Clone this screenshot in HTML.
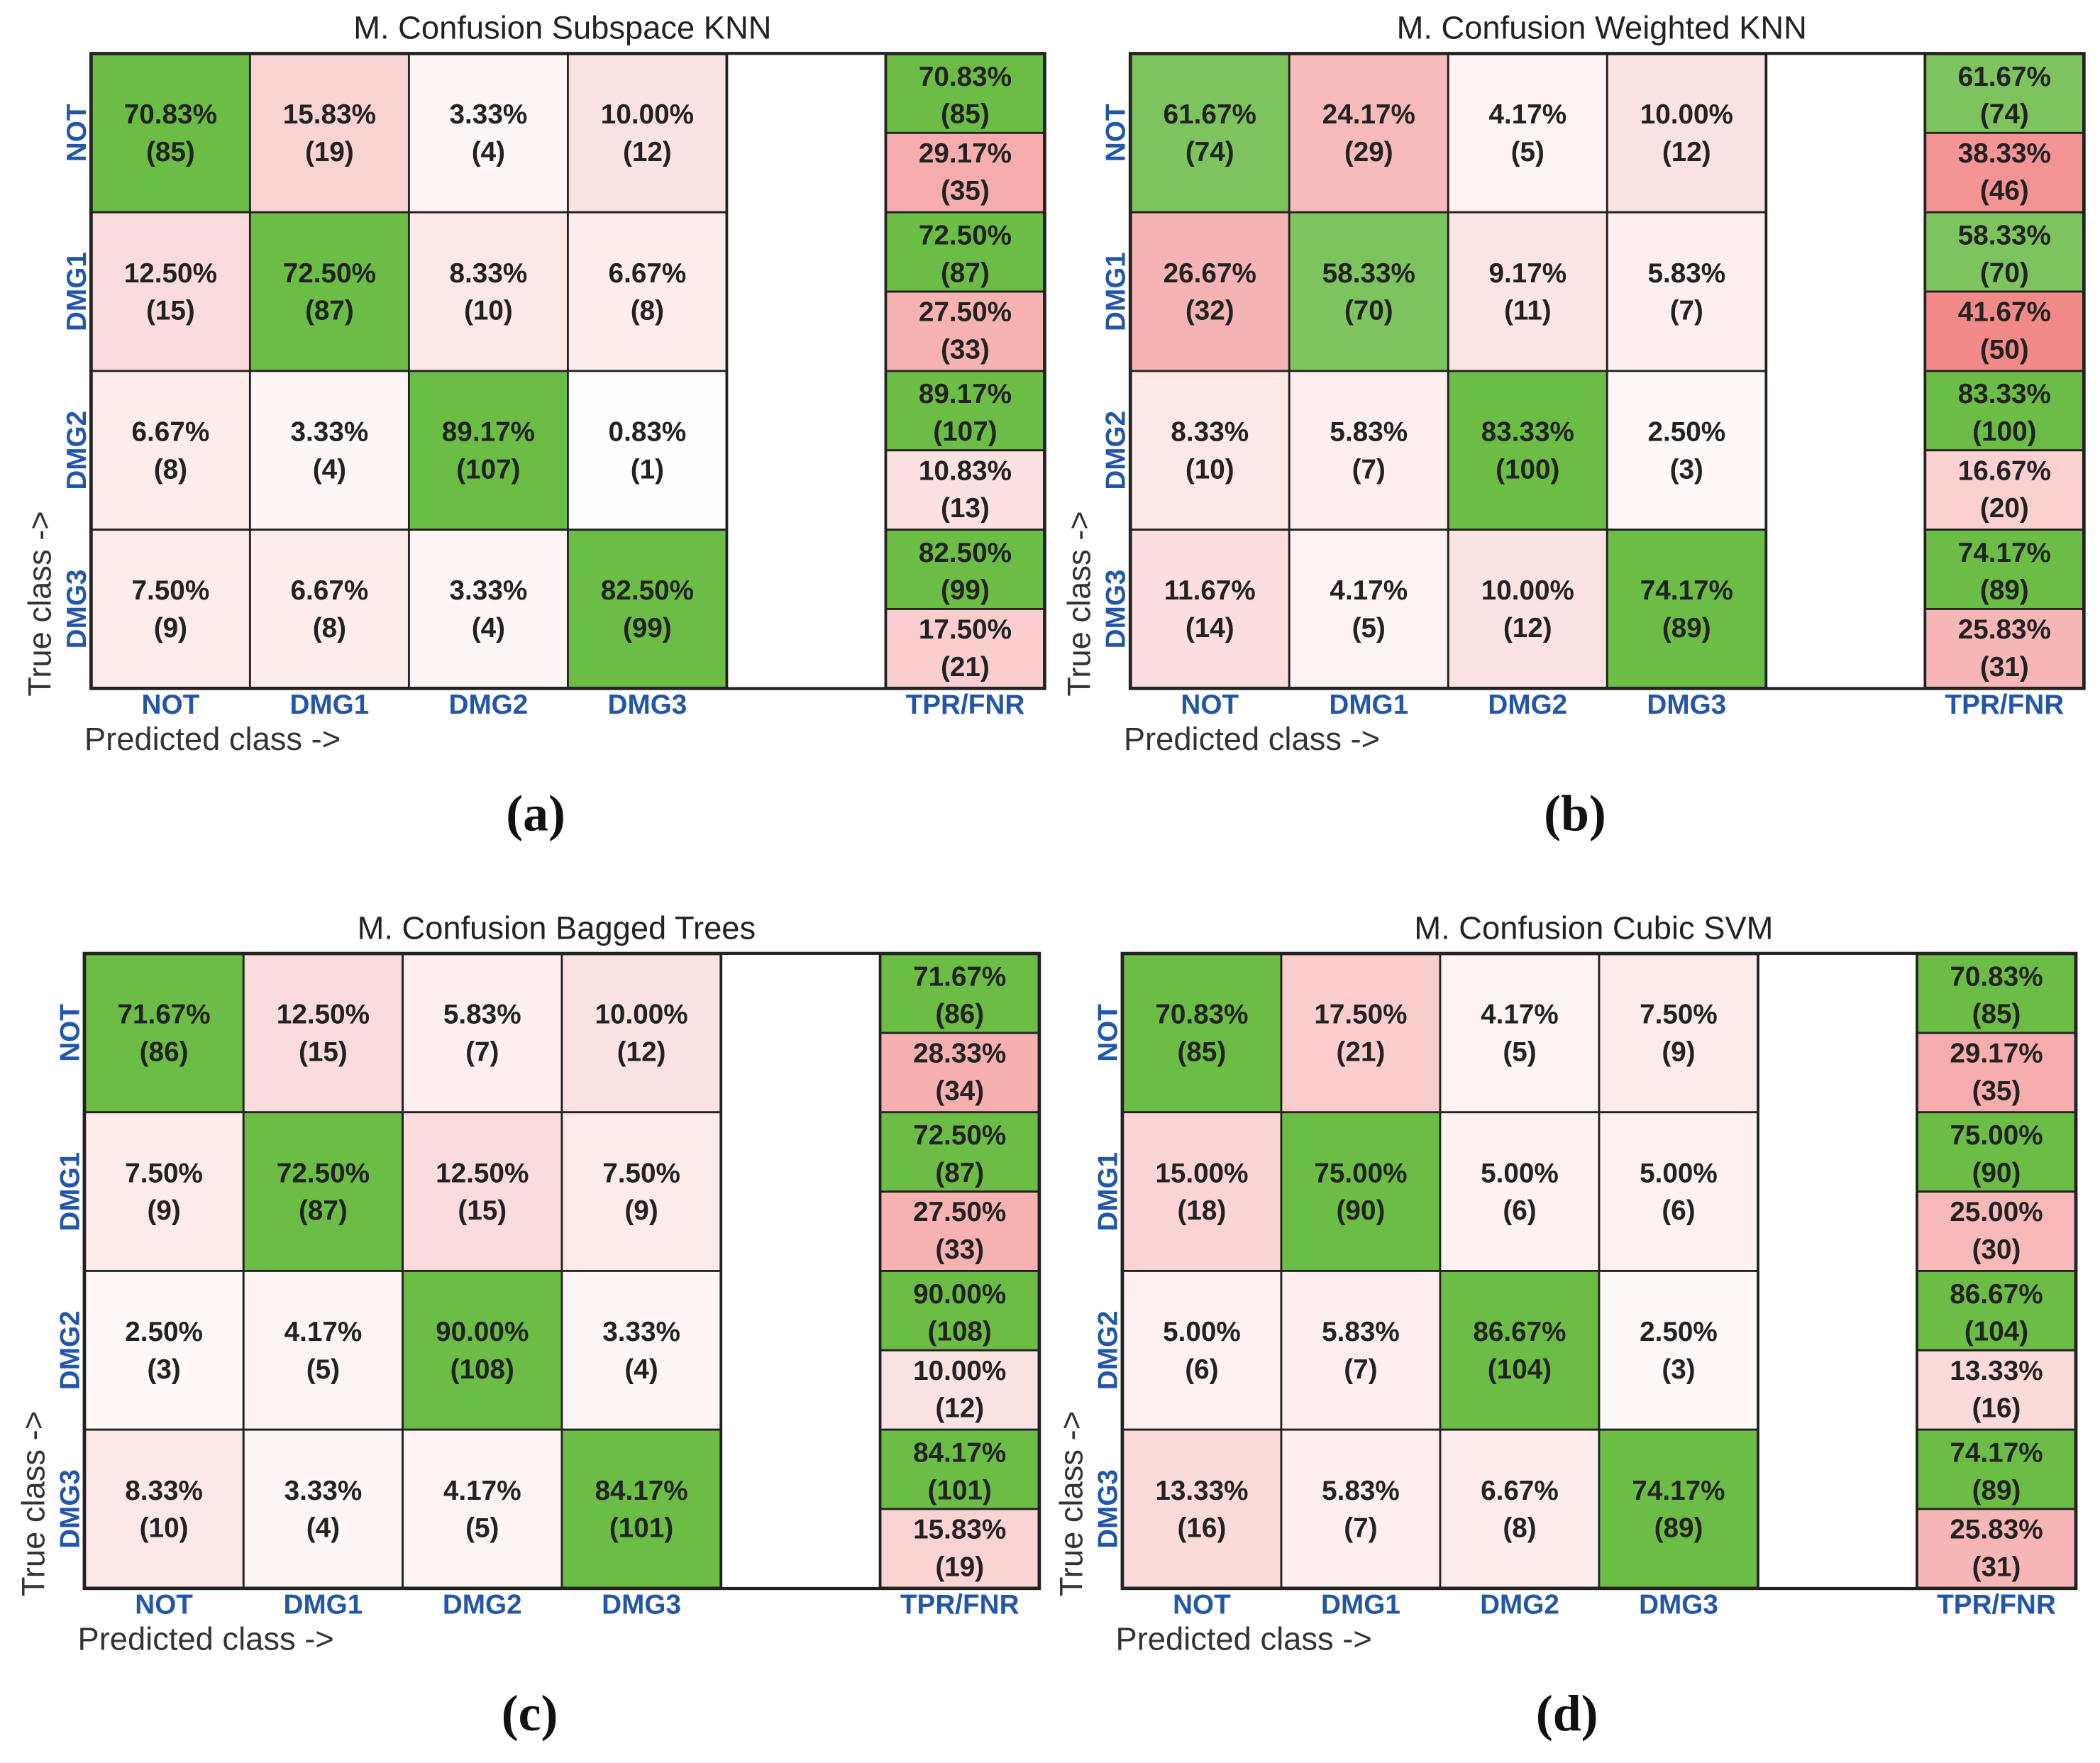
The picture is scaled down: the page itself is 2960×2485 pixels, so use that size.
<!DOCTYPE html>
<html><head><meta charset="utf-8"><style>
html,body{margin:0;padding:0;background:#fff}
svg{display:block}
</style></head><body>
<svg id="fig" xmlns="http://www.w3.org/2000/svg" width="2960" height="2485" viewBox="0 0 1568 1316.4" preserveAspectRatio="none"></svg>
<script>
const classes = ["NOT","DMG1","DMG2","DMG3"];
const titlesArr = ["M. Confusion Subspace KNN","M. Confusion Weighted KNN","M. Confusion Bagged Trees","M. Confusion Cubic SVM"];
const panelLetters = ["(a)","(b)","(c)","(d)"];
const countsA = [[85,19,4,12],[15,87,10,8],[8,4,107,1],[9,8,4,99]];
const countsB = [[74,29,5,12],[32,70,11,7],[10,7,100,3],[14,5,12,89]];
const countsC = [[86,15,7,12],[9,87,15,9],[3,5,108,4],[10,4,5,101]];
const countsD = [[85,21,5,9],[18,90,6,6],[6,7,104,3],[16,7,8,89]];
const allCounts = [countsA,countsB,countsC,countsD];
const layout = [{x:68,y:40,w:712,h:474},{x:844,y:40,w:712,h:474},{x:63,y:712,w:713,h:474},{x:838,y:712,w:712,h:474}];
const NS="http://www.w3.org/2000/svg";
const svg=document.getElementById('fig');
function mk(tag,attrs,parent){const e=document.createElementNS(NS,tag);for(const k in attrs)e.setAttribute(k,attrs[k]);(parent||svg).appendChild(e);return e;}
function txt(s,attrs,parent){const e=mk('text',attrs,parent);e.textContent=s;return e;}
function pink(p){const r=Math.round(255-0.29*p),g=Math.round(255-2.8*p);return `rgb(${r},${g},${g})`;}
function green(p){if(p>=68)return 'rgb(108,189,69)';if(p>=64)return 'rgb(115,192,80)';return 'rgb(125,196,95)';}
const pct=c=>(c/120*100).toFixed(2)+'%';
const FS=20.5;
allCounts.forEach((counts,pi)=>{
  const L=layout[pi];
  const g=mk('g',{});
  
  
  const cw=L.w/6, rh=L.h/4;
  const t=txt(titlesArr[pi],{x:L.x+L.w/2-4,y:L.y-11,'text-anchor':'middle','font-family':'Liberation Sans, sans-serif','font-size':24,fill:'#222'},g);
  
  
  const st={'text-anchor':'middle','font-family':'Liberation Sans, sans-serif','font-weight':'bold','font-size':FS,fill:'#222'};
  counts.forEach((row,ri)=>{
    row.forEach((c,ci)=>{
      const p=c/120*100;
      const x=L.x+ci*cw,y=L.y+ri*rh;
      const r=mk('rect',{x:x,y:y,width:cw,height:rh,fill:ri===ci?green(p):pink(p),stroke:'#222','stroke-width':1.5},g);
      
      
      txt(pct(c),Object.assign({x:x+cw/2,y:y+rh/2-7},st),g);
      txt('('+c+')',Object.assign({x:x+cw/2,y:y+rh/2+21},st),g);
    });
    const tp=row[ri], fn=120-tp;
    const x=L.x+5*cw, y=L.y+ri*rh;
    const r1=mk('rect',{x:x,y:y,width:cw,height:rh/2,fill:green(tp/1.2),stroke:'#222','stroke-width':1.5},g);
    
    
    const r2=mk('rect',{x:x,y:y+rh/2,width:cw,height:rh/2,fill:pink(fn/1.2),stroke:'#222','stroke-width':1.5},g);
    
    
    txt(pct(tp),Object.assign({x:x+cw/2,y:y+24},st),g);
    txt('('+tp+')',Object.assign({x:x+cw/2,y:y+52},st),g);
    txt(pct(fn),Object.assign({x:x+cw/2,y:y+rh/2+22},st),g);
    txt('('+fn+')',Object.assign({x:x+cw/2,y:y+rh/2+50},st),g);
  });
  mk('rect',{x:L.x,y:L.y,width:L.w,height:L.h,fill:'none',stroke:'#222','stroke-width':2.5},g);
  mk('rect',{x:L.x+4*cw,y:L.y,width:cw,height:L.h,fill:'#fff',stroke:'#222','stroke-width':2},g);
  classes.forEach((cl,i)=>{
    const xl=txt(cl,{x:L.x+i*cw+cw/2,y:L.y+L.h+19,'text-anchor':'middle','font-family':'Liberation Sans, sans-serif','font-weight':'bold','font-size':FS,fill:'#2356a8'},g);
    
    
    const cy=L.y+i*rh+rh/2;
    const yl=txt(cl,{x:L.x-4,y:cy,'text-anchor':'middle','font-family':'Liberation Sans, sans-serif','font-weight':'bold','font-size':FS,fill:'#2356a8',transform:`rotate(-90 ${L.x-4} ${cy})`},g);
    
    
  });
  const tl=txt('TPR/FNR',{x:L.x+5.5*cw,y:L.y+L.h+19,'text-anchor':'middle','font-family':'Liberation Sans, sans-serif','font-weight':'bold','font-size':FS,fill:'#2356a8'},g);
  
  
  const xt=txt('Predicted class ->',{x:L.x-5,y:L.y+L.h+46,'font-family':'Liberation Sans, sans-serif','font-size':24,fill:'#333'},g);
  
  
  const ax=L.x-30, ay=L.y+L.h+6;
  const yt=txt('True class ->',{x:ax,y:ay,'font-family':'Liberation Sans, sans-serif','font-size':24,fill:'#333',transform:`rotate(-90 ${ax} ${ay})`},g);
  
  
  const pl=txt(panelLetters[pi],{x:L.x+L.w/2-24,y:L.y+L.h+106,'text-anchor':'middle','font-family':'Liberation Serif, serif','font-weight':'bold','font-size':38,fill:'#111'},g);
  
  
});
</script>
</body></html>
